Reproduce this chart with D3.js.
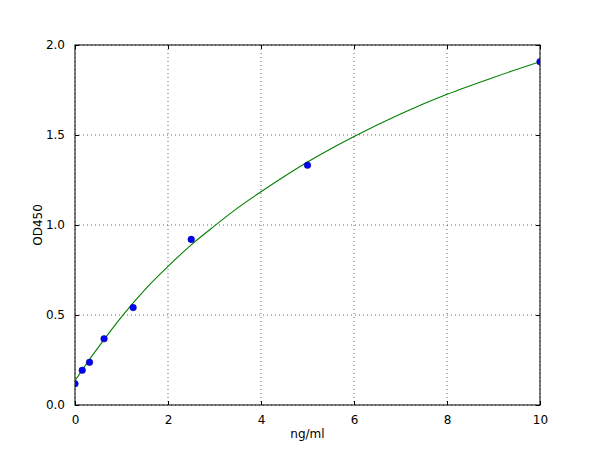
<!DOCTYPE html>
<html>
<head>
<meta charset="utf-8">
<script src="https://cdn.jsdelivr.net/npm/d3@7"></script>
<style>
  body { margin: 0; background: #fff; }
  text { font-family: "DejaVu Sans", sans-serif; font-size: 12px; fill: #000; }
</style>
</head>
<body>
<svg id="chart"></svg>
<script>
// standard points
var conc = [0, 0.156, 0.3125, 0.625, 1.25, 2.5, 5, 10];
var od = [0.118, 0.193, 0.237, 0.368, 0.541, 0.92, 1.332, 1.907];

// fitted curve
var curveX = [0, 0.25, 0.5, 1, 1.5, 2, 2.5, 3, 3.5, 4, 5, 6, 7, 8, 9, 10];
var curveY = [0.135, 0.23, 0.32, 0.49, 0.64, 0.77, 0.89, 0.995, 1.095, 1.185, 1.35, 1.492, 1.617, 1.726, 1.82, 1.907];

var xTicks = [0, 2, 4, 6, 8, 10];
var yTicks = [0, 0.5, 1.0, 1.5, 2.0];

var width = 600,
    height = 450;
var margin = {top: 45, right: 60, bottom: 45, left: 75},
    innerwidth = width - margin.left - margin.right,
    innerheight = height - margin.top - margin.bottom;

var x = d3.scaleLinear().domain([0, 10]).range([0, innerwidth]);
var y = d3.scaleLinear().domain([0, 2]).range([innerheight, 0]);

var svg = d3.select("#chart")
    .attr("width", width)
    .attr("height", height)
  .append("g")
    .attr("transform", "translate(" + margin.left + "," + margin.top + ")");

svg.append("clipPath").attr("id", "clip")
  .append("rect").attr("width", innerwidth).attr("height", innerheight);

// grid
svg.append("g").selectAll("line").data(xTicks).enter().append("line")
    .attr("x1", function(d) { return x(d); })
    .attr("x2", function(d) { return x(d); })
    .attr("y1", 0).attr("y2", innerheight)
    .attr("stroke", "#000").attr("stroke-width", 0.6)
    .attr("stroke-dasharray", "1,3");
svg.append("g").selectAll("line").data(yTicks).enter().append("line")
    .attr("y1", function(d) { return y(d); })
    .attr("y2", function(d) { return y(d); })
    .attr("x1", 0).attr("x2", innerwidth)
    .attr("stroke", "#000").attr("stroke-width", 0.6)
    .attr("stroke-dasharray", "1,3");

// axes with inward ticks on all sides
var fmtY = d3.format(".1f");
svg.append("g")
    .attr("transform", "translate(0," + innerheight + ")")
    .call(d3.axisBottom(x).tickValues(xTicks).tickSizeInner(-4).tickSizeOuter(0).tickPadding(10));
svg.append("g")
    .call(d3.axisTop(x).tickValues(xTicks).tickSizeInner(-4).tickSizeOuter(0).tickFormat(""));
svg.append("g")
    .call(d3.axisLeft(y).tickValues(yTicks).tickSizeInner(-4).tickSizeOuter(0).tickPadding(10).tickFormat(fmtY));
svg.append("g")
    .attr("transform", "translate(" + innerwidth + ",0)")
    .call(d3.axisRight(y).tickValues(yTicks).tickSizeInner(-4).tickSizeOuter(0).tickFormat(""));

svg.selectAll(".domain").remove();
svg.selectAll(".tick line").attr("stroke", "#000");
svg.selectAll(".tick text")
    .style("font-family", "DejaVu Sans, sans-serif")
    .style("font-size", "12px")
    .attr("fill", "#000");

svg.append("rect")
    .attr("width", innerwidth).attr("height", innerheight)
    .attr("fill", "none").attr("stroke", "#000").attr("stroke-width", 1);

var plot = svg.append("g").attr("clip-path", "url(#clip)");

var line = d3.line()
    .x(function(d) { return x(d[0]); })
    .y(function(d) { return y(d[1]); })
    .curve(d3.curveCatmullRom);

plot.append("path")
    .datum(d3.zip(curveX, curveY))
    .attr("d", line)
    .attr("fill", "none")
    .attr("stroke", "#008000")
    .attr("stroke-width", 1.1);

plot.selectAll("circle").data(d3.zip(conc, od)).enter().append("circle")
    .attr("cx", function(d) { return x(d[0]); })
    .attr("cy", function(d) { return y(d[1]); })
    .attr("r", 3.3)
    .attr("fill", "#0000ff")
    .attr("stroke", "#000080")
    .attr("stroke-width", 0.5);

// axis labels
svg.append("text")
    .attr("x", innerwidth / 2)
    .attr("y", innerheight + 33)
    .attr("text-anchor", "middle")
    .text("ng/ml");

svg.append("text")
    .attr("transform", "translate(-33," + innerheight / 2 + ") rotate(-90)")
    .attr("text-anchor", "middle")
    .text("OD450");
</script>
</body>
</html>
